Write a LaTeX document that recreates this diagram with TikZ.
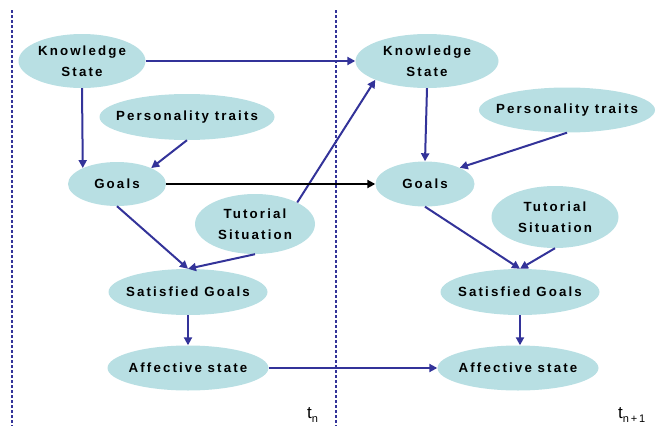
\documentclass[tikz,border=0pt]{standalone}
\usepackage{fontspec}
\usepackage{tikz}
\usetikzlibrary{arrows.meta}
\usetikzlibrary{shapes}
\newfontfamily\nodefont[LetterSpace=16]{Liberation Sans}
\newfontfamily\timefont{Liberation Sans}
\definecolor{nodefill}{RGB}{184,223,227}
\definecolor{edgeblue}{RGB}{51,51,153}

\begin{document}
\begin{tikzpicture}[x=1pt, y=-1pt,
        node_style/.style={ellipse,fill=nodefill,inner sep=0pt},
        node_text/.style={inner sep=0pt,align=center,font=\nodefont\bfseries\fontsize{13.3}{21}\selectfont},
        edge_style/.style={draw=edgeblue, line width=2pt,-{Triangle[length=8pt,width=8pt]}},
        time_edge_style/.style={draw=black, line width=2pt,-{Triangle[length=8pt,width=8pt]}},
        slice_style/.style={draw=edgeblue, line width=1.5pt, dash pattern=on 3pt off 2pt},
        time_style/.style={font=\timefont\fontsize{17}{17}\selectfont, inner sep=0pt, anchor=base west}]

        \useasboundingbox (0,0) rectangle (657,426);

        % time slices
        \draw [slice_style] (12,10) -- (12,430);
        \draw [slice_style] (336,10) -- (336,430);

        % slice t_n
        \node [node_style,minimum width=127pt,minimum height=54pt,label={[node_text]center:Knowledge\\State}](ks1) at (82,61) {};
    
        \node [node_style,minimum width=175pt,minimum height=46pt,label={[node_text]center:Personality traits}](pt1) at (187,117) {};
    
        \node [node_style,minimum width=98pt,minimum height=44pt,label={[node_text]center:Goals}](g1) at (117,184) {};
    
        \node [node_style,minimum width=120pt,minimum height=60pt,label={[node_text]center:Tutorial\\Situation}](ts1) at (255,224) {};
    
        \node [node_style,minimum width=159pt,minimum height=46pt,label={[node_text]center:Satisfied Goals}](sg1) at (188,292) {};
    
        \node [node_style,minimum width=161pt,minimum height=45pt,label={[node_text]center:Affective state}](as1) at (188,368) {};

        % slice t_n+1
        \node [node_style,minimum width=143pt,minimum height=54pt,label={[node_text]center:Knowledge\\State}](ks2) at (427,61) {};
    
        \node [node_style,minimum width=176pt,minimum height=45pt,label={[node_text]center:Personality traits}](pt2) at (567,110) {};
    
        \node [node_style,minimum width=99pt,minimum height=45pt,label={[node_text]center:Goals}](g2) at (425,184) {};
    
        \node [node_style,minimum width=127pt,minimum height=62pt,label={[node_text]center:Tutorial\\Situation}](ts2) at (555,217) {};
    
        \node [node_style,minimum width=159pt,minimum height=46pt,label={[node_text]center:Satisfied Goals}](sg2) at (520,292) {};
    
        \node [node_style,minimum width=161pt,minimum height=45pt,label={[node_text]center:Affective state}](as2) at (518,368) {};

        \node [time_style](tn) at (307,418) {t\raisebox{-4pt}{\fontsize{11}{11}\selectfont n}};

        \node [time_style](tn1) at (618,418) {t\raisebox{-4pt}{\fontsize{11}{11}\selectfont n\,+\,1}};

        \draw [edge_style] (ks1.south) -- (g1.155);
    
        \draw [edge_style] (pt1.south) -- (g1.25);
    
        \draw [edge_style] (g1.south) -- (sg1.north);
    
        \draw [edge_style] (ts1.south) -- (sg1.north);
    
        \draw [edge_style] (sg1.south) -- (as1.north);
    
        \draw [edge_style] (ks1.east) -- (ks2.west);
    
        \draw [edge_style] (ts1.27) -- (ks2.200);
    
        \draw [time_edge_style] (g1.east) -- (g2.west);
    
        \draw [edge_style] (as1.east) -- (as2.west);
    
        \draw [edge_style] (ks2.south) -- (g2.north);
    
        \draw [edge_style] (pt2.south) -- (g2.25);
    
        \draw [edge_style] (g2.south) -- (sg2.north);
    
        \draw [edge_style] (ts2.south) -- (sg2.north);
    
        \draw [edge_style] (sg2.south) -- (sg2.south |- as2.north);
    
        \end{tikzpicture}
\end{document}
